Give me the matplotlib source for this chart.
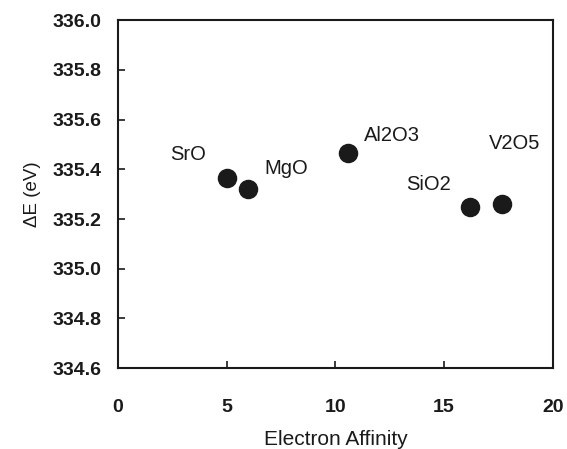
import matplotlib.pyplot as plt

# data
oxides = ["SrO", "MgO", "Al2O3", "SiO2", "V2O5"]
affinity = [5.0, 6.0, 10.6, 16.2, 17.65]
delta_e = [335.365, 335.32, 335.465, 335.25, 335.26]
# label offsets (points) relative to each marker
offsets = [(-28, 17), (27, 15), (31, 13), (-30, 16), (9, 44)]

plt.rcParams['font.family'] = ['Liberation Sans', 'DejaVu Sans']

fig = plt.figure(figsize=(5.67, 4.49), dpi=100)
ax = fig.add_axes([0.208, 0.180, 0.767, 0.775])

ax.scatter(affinity, delta_e, s=170, color="#1a1a1a", zorder=3)
for name, x, y, off in zip(oxides, affinity, delta_e, offsets):
    ax.annotate(name, (x, y), xytext=off, textcoords="offset points",
                ha="center", va="center", fontsize=14.5, color="#1a1a1a")

ax.set_xlim(0, 20)
ax.set_ylim(334.6, 336.0)
ax.set_xticks([0, 5, 10, 15, 20])
ax.set_yticks([334.6, 334.8, 335.0, 335.2, 335.4, 335.6, 335.8, 336.0])
ax.set_yticklabels(["%.1f" % v for v in ax.get_yticks()])
ax.tick_params(direction="in", length=5, width=1.2, labelsize=14, colors="#1a1a1a")
ax.tick_params(axis="x", pad=22)
ax.tick_params(axis="y", pad=12)
for lab in ax.get_xticklabels() + ax.get_yticklabels():
    lab.set_fontweight("bold")
for sp in ax.spines.values():
    sp.set_linewidth(1.5)
    sp.set_color("#1a1a1a")

ax.set_xlabel("Electron Affinity", fontsize=15, labelpad=10, color="#1a1a1a")
ax.set_ylabel("ΔE (eV)", fontsize=13.5, labelpad=8, color="#1a1a1a")

fig.savefig("out.png", dpi=100)
